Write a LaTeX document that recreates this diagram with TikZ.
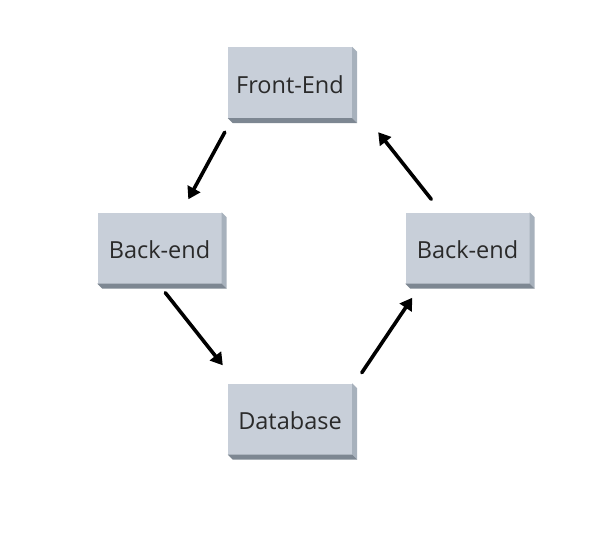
\documentclass[tikz,border=0pt]{standalone}
\usepackage{fontspec}
\setmainfont{Open Sans}
\usetikzlibrary{arrows.meta}
\definecolor{facegray}{HTML}{C8CFD9}
\definecolor{sidegray}{HTML}{A7B1BC}
\definecolor{basegray}{HTML}{7D8792}
\definecolor{inkgray}{HTML}{2A2A2A}
\tikzset{
  slabbox/.style={fill=facegray,minimum width=124pt,minimum height=71pt,
    inner sep=0pt,text=inkgray,text height=23pt,text depth=1.2pt,
    font=\fontsize{23.5}{26}\selectfont},
  flow/.style={line width=3.6pt,-{Triangle[length=12pt,width=14pt]},line cap=round}
}
% right side and base of a box
\newcommand{\slab}[1]{%
  \fill[sidegray] (#1.north east) -- ++(5,-5) -- ([shift={(5,-5)}]#1.south east) -- (#1.south east) -- cycle;
  \fill[basegray] (#1.south west) -- ++(5,-5) -- ([shift={(5,-5)}]#1.south east) -- (#1.south east) -- cycle;}
\begin{document}
\begin{tikzpicture}[x=1pt,y=1pt]
\useasboundingbox (0,0) rectangle (610,-548);
\node[slabbox] (front) at (290,-82.5) {Front-End};
\node[slabbox] (backl) at (159.5,-248) {Back-end};
\node[slabbox] (backr) at (467.5,-248) {Back-end};
\node[slabbox] (db) at (290,-419) {Database};
\slab{front}
\slab{backl}
\slab{backr}
\slab{db}
\coordinate (a1) at ([shift={(-3,-14)}]front.south west);
\coordinate (b1) at ([shift={(91,13)}]backl.north west);
\coordinate (a2) at ([shift={(68,-9)}]backl.south west);
\coordinate (b2) at ([shift={(-5,18)}]db.north west);
\coordinate (a3) at ([shift={(134,82)}]db.south west);
\coordinate (b3) at ([shift={(7,-14)}]backr.south west);
\coordinate (a4) at ([shift={(26,13)}]backr.north west);
\coordinate (b4) at ([shift={(26,-14)}]front.south east);
\draw[flow] (a1) -- (b1);
\draw[flow] (a2) -- (b2);
\draw[flow] (a3) -- (b3);
\draw[flow] (a4) -- (b4);
\end{tikzpicture}
\end{document}
